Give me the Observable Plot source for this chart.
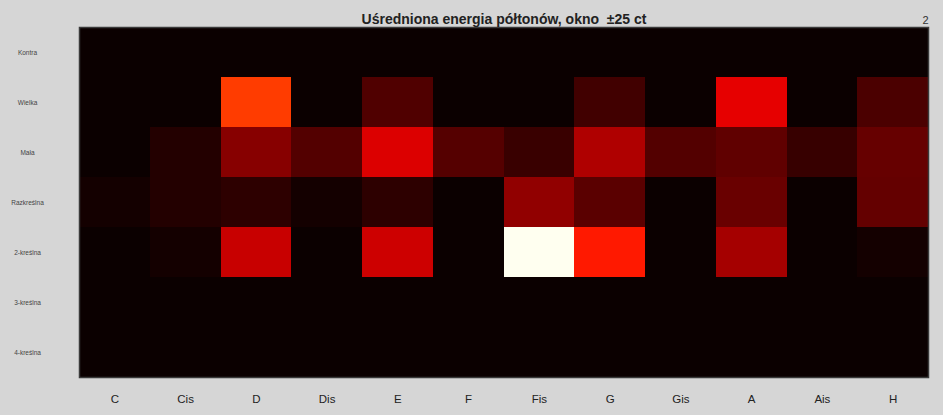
<!DOCTYPE html>
<html>
<head>
<meta charset="utf-8">
<script src="https://cdn.jsdelivr.net/npm/d3@7"></script>
<script src="https://cdn.jsdelivr.net/npm/@observablehq/plot@0.6"></script>
<style>
  html, body { margin: 0; padding: 0; background: #d6d6d6; overflow: hidden; }
  #chart svg { display: block; }
</style>
</head>
<body>
<div id="chart"></div>
<script>
// Pitch classes (columns) and octave names (rows)
const notes = ["C", "Cis", "D", "Dis", "E", "F", "Fis", "G", "Gis", "A", "Ais", "H"];
const octaves = ["Kontra", "Wielka", "Mała", "Razkreślna", "2-kreślna", "3-kreślna", "4-kreślna"];

// Mean semitone energy per octave (normalised 0..1), one value per pitch class
const kontra      = [0, 0, 0, 0, 0, 0, 0, 0, 0, 0, 0, 0];
const wielka      = [0, 0, 0.455, 0, 0.104, 0, 0, 0.081, 0, 0.328, 0, 0.096];
const mala        = [0, 0.036, 0.186, 0.108, 0.313, 0.111, 0.070, 0.246, 0.108, 0.128, 0.066, 0.137];
const razkreslna  = [0.014, 0.036, 0.051, 0.014, 0.051, 0, 0.201, 0.119, 0, 0.141, 0, 0.133];
const dwukreslna  = [0, 0.014, 0.283, 0, 0.290, 0, 1.0, 0.402, 0, 0.231, 0, 0.014];
const trzykreslna = [0, 0, 0, 0, 0, 0, 0, 0, 0, 0, 0, 0];
const czterokreslna = [0, 0, 0, 0, 0, 0, 0, 0, 0, 0, 0, 0];

const title = "Uśredniona energia półtonów, okno  ±25 ct";
const figureNo = "2";

const rows = [kontra, wielka, mala, razkreslna, dwukreslna, trzykreslna, czterokreslna];
const cells = rows.flatMap((vals, i) =>
  vals.map((value, j) => ({octave: octaves[i], note: notes[j], value}))
);

// "hot" colour map: black -> red -> yellow -> white (64 steps, continuous)
const clamp = v => Math.max(0, Math.min(1, v));
const hot = t => {
  const s = t * 63 + 1;
  const r = clamp(s / 24), g = clamp((s - 24) / 24), b = clamp((s - 48) / 16);
  return `rgb(${Math.round(r * 255)},${Math.round(g * 255)},${Math.round(b * 240)})`;
};

const font = "'Liberation Sans', Arial, sans-serif";

const chart = Plot.plot({
  width: 943,
  height: 415,
  marginLeft: 79,
  marginRight: 15,
  marginTop: 27,
  marginBottom: 38,
  style: {background: "#d6d6d6", fontFamily: font, color: "#222"},
  x: {domain: notes, padding: 0, round: false, label: null},
  y: {domain: octaves, padding: 0, round: false, label: null},
  color: {type: "linear", domain: [0, 1], interpolate: hot},
  marks: [
    Plot.cell(cells, {x: "note", y: "octave", fill: "value", shapeRendering: "crispEdges"}),
    Plot.frame({stroke: "#3a3a3a", strokeWidth: 1.5}),
    Plot.axisX({anchor: "bottom", tickSize: 0, tickPadding: 17, fontSize: 11.5, fill: "#222", label: null}),
    Plot.axisY({anchor: "left", tickSize: 0, tickPadding: 52, textAnchor: "middle", fontSize: 6.5, fill: "#444", label: null}),
    Plot.text([title], {frameAnchor: "top", dy: -13, fontSize: 14, fontWeight: "bold", fill: "#222"}),
    Plot.text([figureNo], {frameAnchor: "top-right", dy: -11, textAnchor: "end", fontSize: 11, fill: "#333"})
  ]
});

document.getElementById("chart").appendChild(chart);
</script>
</body>
</html>
